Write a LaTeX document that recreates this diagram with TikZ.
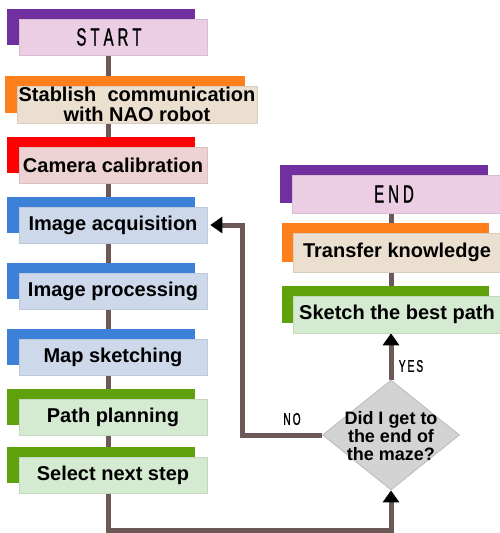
\documentclass[tikz,border=0pt]{standalone}
\usepackage{fontspec}
\setmainfont{Liberation Sans}
\newfontfamily\condfont[FakeStretch=0.6,FakeBold=1]{Liberation Sans}
\usetikzlibrary{shapes.geometric,arrows.meta,backgrounds}
\definecolor{purpD}{HTML}{7030A0}
\definecolor{purpL}{HTML}{EBCDE4}
\definecolor{oranD}{HTML}{FF7F1C}
\definecolor{oranL}{HTML}{EBDFD0}
\definecolor{redD}{HTML}{FF0000}
\definecolor{redL}{HTML}{ECD2D2}
\definecolor{bluD}{HTML}{3D80D8}
\definecolor{bluL}{HTML}{CDD9EB}
\definecolor{grnD}{HTML}{5EA10A}
\definecolor{grnL}{HTML}{D5EBD1}
\definecolor{link}{HTML}{6D5858}
\definecolor{dia}{HTML}{D3D3D3}
\newcommand\flowstep[8]{%
  \fill[#2] ({#4-#6/2-12},{#5-#7/2-10}) rectangle ({#4+#6/2-12},{#5+#7/2-10});
  \node[frontbox, fill=#3, draw=#3!92!black, minimum width=#6pt, minimum height=#7pt] (#1) at (#4,#5) {#8};
}
\tikzset{
  frontbox/.style={rectangle, inner sep=0pt, line width=0.6pt, align=center,
    font=\bfseries\fontsize{20}{20}\selectfont},
  condsmall/.style={font=\condfont\fontsize{17}{17}\selectfont},
  linkline/.style={draw=link, line width=5pt},
  tip/.style={-{Triangle[width=16pt,length=12pt,color=black]}},
}
\begin{document}
\begin{tikzpicture}[x=1pt,y=-1pt]
\useasboundingbox (0,0) rectangle (499,533);
\coordinate (spine) at (108,0);
\coordinate (rspine) at (391,0);
\coordinate (corner1) at (108,530);
\coordinate (corner2) at (391,530);
\coordinate (nox) at (242,0);

\flowstep{start}{purpD}{purpL}{113}{37}{188}{36}{\mdseries\condfont\fontsize{25}{25}\selectfont S\hspace{4pt}T\hspace{4pt}A\hspace{4pt}R\hspace{4pt}T\hspace{8pt}}
\flowstep{comm}{oranD}{oranL}{137}{104.5}{240}{37}{Stablish\ \ communication\\with NAO robot}
\flowstep{cam}{redD}{redL}{113}{165}{188}{36}{Camera calibration}
\flowstep{acq}{bluD}{bluL}{113}{225}{188}{36}{Image acquisition}
\flowstep{proc}{bluD}{bluL}{113}{291}{188}{36}{Image processing}
\flowstep{map}{bluD}{bluL}{113}{357}{188}{36}{Map sketching}
\flowstep{path}{grnD}{grnL}{113}{417}{188}{36}{Path planning}
\flowstep{select}{grnD}{grnL}{113}{475}{188}{36}{Select next step}

\flowstep{end}{purpD}{purpL}{396}{194}{208}{38}{\mdseries\condfont\fontsize{25}{25}\selectfont E\hspace{4pt}N\hspace{4pt}D\hspace{4pt}}
\flowstep{transfer}{oranD}{oranL}{397}{252.5}{207}{39}{Transfer knowledge}
\flowstep{sketch}{grnD}{grnL}{397}{314.5}{207}{37}{Sketch the best path}

\node[diamond, fill=dia, draw=dia!88!black, line width=0.8pt, inner sep=0pt,
      minimum width=137pt, minimum height=110pt] (decide) at (391,435) {};
\node[align=center, font=\bfseries\fontsize{18}{18}\selectfont] (decidetext) at ([yshift=-1pt]decide.center) {Did I get to\\the end of\\the maze?};

\node[condsmall] (nolabel) at (292,419) {N\hspace{2pt}O};
\node[condsmall] (yeslabel) at (411,366) {Y\hspace{2pt}E\hspace{2pt}S};

\begin{pgfonlayer}{background}
  \draw[linkline] (start.center -| spine) -- (comm.center -| spine);
  \draw[linkline] (comm.center -| spine) -- (cam.center -| spine);
  \draw[linkline] (cam.center -| spine) -- (acq.center -| spine);
  \draw[linkline] (acq.center -| spine) -- (proc.center -| spine);
  \draw[linkline] (proc.center -| spine) -- (map.center -| spine);
  \draw[linkline] (map.center -| spine) -- (path.center -| spine);
  \draw[linkline] (path.center -| spine) -- (select.center -| spine);
  \draw[linkline, tip] (select.center -| spine) -- (corner1) -- (corner2) -- (decide.south);
  \draw[linkline] (end.center -| rspine) -- (transfer.center -| rspine);
  \draw[linkline] (transfer.center -| rspine) -- (sketch.center -| rspine);
  \draw[linkline, tip] (decide.north) -- (sketch.south -| rspine);
  \draw[linkline, tip] (decide.west) -- (decide.west -| nox) -- (acq.east -| nox) -- ([xshift=3pt]acq.east);
\end{pgfonlayer}
\end{tikzpicture}
\end{document}
